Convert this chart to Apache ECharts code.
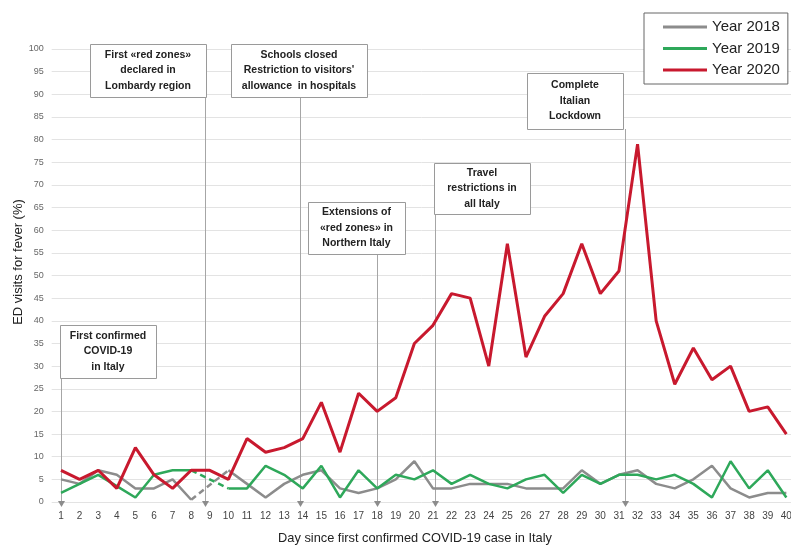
<!DOCTYPE html>
<html><head><meta charset="utf-8">
<script src="https://cdn.jsdelivr.net/npm/echarts@6/dist/echarts.min.js"></script>
<style>html,body{margin:0;padding:0;background:#fff;overflow:hidden}#c{width:791px;height:545px}</style>
</head><body><div id="c"></div>
<script>
// ---- data ----
const days = [1,2,3,4,5,6,7,8,9,10,11,12,13,14,15,16,17,18,19,20,21,22,23,24,25,26,27,28,29,30,31,32,33,34,35,36,37,38,39,40];
const yTicks = [0,5,10,15,20,25,30,35,40,45,50,55,60,65,70,75,80,85,90,95,100];
const year2018 = [5,4,7,6,3,3,5,0.5,null,7, 4,1,4,6,7,3,2,3,5,9, 3,3,4,4,4,3,3,3,7,4, 6,7,4,3,5,8,3,1,2,2];
const year2019 = [2,4,6,3.5,1,6,7,7,null,3, 3,8,6,3,8,1,7,3,6,5, 7,4,6,4,3,5,6,2,6,4, 6,6,5,6,4,1,9,3,7,1];
const year2020 = [7,5,7,3,12,6,3,7,7,5, 14,11,12,14,22,11,24,20,23,35, 39,46,45,30,57,32,41,46,57,46, 51,79,40,26,34,27,30,20,21,15];
const seriesNames = ['Year 2018','Year 2019','Year 2020'];
const eventDays = [1, 8.72, 13.84, 18, 21.1, 31.33];
const eventTexts = [
  'First confirmed\nCOVID-19\nin Italy',
  'First «red zones»\ndeclared in\nLombardy region',
  'Schools closed\nRestriction to visitors\'\nallowance  in hospitals',
  'Extensions of\n«red zones» in\nNorthern Italy',
  'Travel\nrestrictions in\nall Italy',
  'Complete\nItalian\nLockdown'
];
// ---- layout (pixels) for annotation boxes ----
const boxes = [
  {x:60, y:325, w:96, h:53},
  {x:90, y:44, w:116, h:53},
  {x:231, y:44, w:136, h:53},
  {x:308, y:202, w:97, h:52},
  {x:434, y:163, w:96, h:51},
  {x:527, y:73, w:96, h:56}
];
const colors = ['#8c8c8c', '#2ea85a', '#c8192e'];

function pairs(arr){ return days.map((d,i)=>[d, arr[i]]); }
function bridges(arr){
  const out = [];
  arr.forEach((v,i)=>{
    if (v === null && i>0 && i<arr.length-1) out.push([[days[i-1],arr[i-1]],[days[i+1],arr[i+1]]]);
  });
  return out;
}

const chart = echarts.init(document.getElementById('c'), null, {renderer:'canvas'});
const font = "'Liberation Sans', Arial, sans-serif";

const series = [];
[year2018, year2019, year2020].forEach((arr, k)=>{
  series.push({
    name: seriesNames[k], type:'line', data: pairs(arr), symbol:'none',
    lineStyle:{color:colors[k], width: k===2?3:2.5}, itemStyle:{color:colors[k]},
    connectNulls:false, z: 3+k, animation:false
  });
  bridges(arr).forEach(b=>{
    series.push({
      type:'line', data:b, symbol:'none',
      lineStyle:{color:colors[k], width:2.5, type:[6,4]}, z:3+k, animation:false
    });
  });
});

chart.setOption({
  animation:false,
  textStyle:{fontFamily:font},
  grid:{left:51.7, right:0, top:49, bottom:43, containLabel:false, outerBoundsMode:'none'},
  xAxis:{
    type:'value', min:0.5, max:40.25,
    axisLine:{show:false}, axisTick:{show:false}, splitLine:{show:false},
    axisLabel:{customValues: days, fontSize:10, color:'#444', margin:9, fontFamily:font}
  },
  yAxis:{
    type:'value', min:0, max:100, interval:5,
    axisLine:{show:false}, axisTick:{show:false},
    splitLine:{lineStyle:{color:'#e3e3e3', width:1}},
    axisLabel:{fontSize:9, color:'#666', margin:8, fontFamily:font,
      customValues: yTicks}
  },
  legend:{
    data: seriesNames, orient:'vertical', left:644, top:13,
    padding:[6,8,6,19], borderColor:'#666', borderWidth:1, backgroundColor:'#fff',
    icon:'rect', itemWidth:44, itemHeight:3, itemGap:5.5,
    textStyle:{fontSize:15, color:'#222', lineHeight:16, fontFamily:font}
  },
  series: series
});

// annotations
const y0 = chart.convertToPixel({yAxisIndex:0}, 0);
const graphics = [];
eventDays.forEach((d,i)=>{
  const x = Math.round(chart.convertToPixel({xAxisIndex:0}, d)) + 0.5;
  const b = boxes[i];
  graphics.push({type:'line', z:1, silent:true,
    shape:{x1:x, y1:b.y+b.h, x2:x, y2:y0+1}, style:{stroke:'#a6a6a6', lineWidth:1}});
  graphics.push({type:'polygon', z:1, silent:true,
    shape:{points:[[x-3.5,y0-1],[x+3.5,y0-1],[x,y0+5]]}, style:{fill:'#8c8c8c'}});
  graphics.push({type:'rect', z:50, silent:true,
    shape:{x:b.x+0.5, y:b.y+0.5, width:b.w, height:b.h}, style:{fill:'#fff', stroke:'#9a9a9a', lineWidth:1}});
  graphics.push({type:'text', z:51, silent:true,
    style:{text:eventTexts[i], x:b.x+b.w/2, y:b.y+b.h/2, align:'center', verticalAlign:'middle',
      font:"bold 10.5px " + font, fill:'#222', lineHeight:15.5}});
});
graphics.push({type:'text', silent:true, style:{text:'Day since first confirmed COVID-19 case in Italy',
  x:415, y:538, align:'center', verticalAlign:'middle', font:"12.8px " + font, fill:'#222'}});
graphics.push({type:'text', silent:true, rotation:Math.PI/2, x:18, y:262,
  style:{text:'ED visits for fever (%)', x:0, y:0, align:'center', verticalAlign:'middle', font:"13px " + font, fill:'#222'}});
chart.setOption({graphic:graphics});
</script>
</body></html>
